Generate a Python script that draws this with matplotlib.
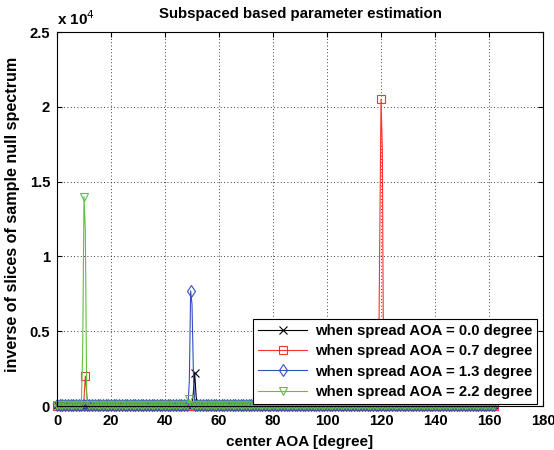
import numpy as np
import matplotlib.pyplot as plt
from matplotlib.ticker import FuncFormatter

plt.rcParams['font.family'] = ['Liberation Sans', 'DejaVu Sans']

# scan grid of the centre AOA [degree]
aoa = np.arange(0, 162.5, 0.5)

labels = ['when spread AOA = 0.0 degree', 'when spread AOA = 0.7 degree',
          'when spread AOA = 1.3 degree', 'when spread AOA = 2.2 degree']

# floor level of each spectrum, spike samples,
# and the spike tops that carry a marker
floor_00 = 40
peak_x_00 = [10.5, 50.5, 51.0, 51.5]
peak_y_00 = [350, 900, 2200, 700]
top_x_00 = [51.0]

floor_07 = 20
peak_x_07 = [10.0, 10.5, 11.0, 119.5, 120.0, 120.5]
peak_y_07 = [500, 2000, 800, 10200, 20500, 17100]
top_x_07 = [10.5, 120.0]

floor_13 = 90
peak_x_13 = [49.0, 49.5, 50.0, 50.5]
peak_y_13 = [1600, 7700, 6800, 2400]
top_x_13 = [49.5]

floor_22 = 60
peak_x_22 = [9.5, 10.0, 10.5, 11.0, 48.5, 49.0]
peak_y_22 = [3500, 14000, 11700, 600, 300, 450]
top_x_22 = [10.0, 49.0]


def spectrum(floor, px, py, tops):
    y = np.full(aoa.shape, float(floor))
    spike_idx = []
    for xv, yv in zip(px, py):
        i = int(np.argmin(np.abs(aoa - xv)))
        y[i] = yv
        spike_idx.append(i)
    marks = [i for i in range(0, len(aoa), 2) if i not in spike_idx]
    marks += [int(np.argmin(np.abs(aoa - t))) for t in tops]
    return y, sorted(marks)


series = [
    (spectrum(floor_00, peak_x_00, peak_y_00, top_x_00), 'k', 'x'),
    (spectrum(floor_07, peak_x_07, peak_y_07, top_x_07), '#ff3030', 's'),
    (spectrum(floor_13, peak_x_13, peak_y_13, top_x_13), '#3050c0', 'd'),
    (spectrum(floor_22, peak_x_22, peak_y_22, top_x_22), '#60c040', 'v'),
]

fig = plt.figure(figsize=(5.54, 4.5), dpi=100)
ax = fig.add_axes([57 / 554, 1 - 406 / 450, 486 / 554, 374 / 450])

for ((y, marks), c, m), lab in zip(series, labels):
    ax.plot(aoa, y, color=c, marker=m, markersize=6, markerfacecolor='none',
            markeredgewidth=0.8, linewidth=0.8, markevery=marks,
            clip_on=False, label=lab)

ax.set_xlim(0, 180)
ax.set_ylim(0, 25000)
ax.set_xticks(np.arange(0, 181, 20))
ax.set_yticks(np.arange(0, 25001, 5000))
ax.yaxis.set_major_formatter(FuncFormatter(lambda v, p: '%g' % (v / 1e4)))
ax.grid(True, color='k', linestyle=(0, (1, 3)), linewidth=0.6)
ax.tick_params(direction='in', top=True, right=True, labelsize=10.6)
ax.tick_params(axis='x', pad=6)
ax.tick_params(axis='y', pad=5)
for t in ax.get_xticklabels() + ax.get_yticklabels():
    t.set_fontweight('bold')

ax.text(0.0, 1.012, 'x 10$^4$', transform=ax.transAxes, fontsize=11,
        fontweight='bold', ha='left', va='bottom')
ax.set_title('Subspaced based parameter estimation', fontsize=10.8,
             fontweight='bold', pad=10)
ax.set_xlabel('center AOA [degree]', fontsize=11, fontweight='bold', labelpad=5)
ax.set_ylabel('inverse of slices of sample null spectrum', fontsize=11.6,
              fontweight='bold')
ax.yaxis.set_label_coords(-0.076, 0.513)

leg = ax.legend(loc='lower right', prop={'size': 10.7, 'weight': 'bold'},
                fancybox=False, edgecolor='k', framealpha=1,
                bbox_to_anchor=(0.988, 0.005), borderaxespad=0,
                handlelength=3.3, handletextpad=0.5, labelspacing=0.42,
                borderpad=0.35)
leg.get_frame().set_linewidth(0.8)

fig.savefig('out.png', dpi=100)
